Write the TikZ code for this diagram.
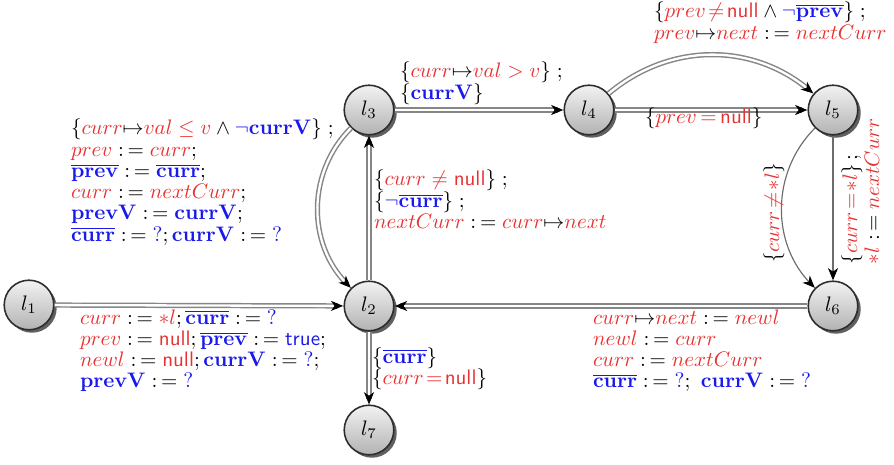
\documentclass[tikz,border=0pt]{standalone}
\usetikzlibrary{arrows.meta,decorations.markings,shadows}
\definecolor{vred}{RGB}{232,50,50}
\definecolor{vblue}{RGB}{25,25,235}
\newcommand\rd[1]{{\color{vred}#1}}
\newcommand\bl[1]{{\color{vblue}#1}}
\newcommand\asg{\mathrel{\mathbf{:}\mkern-1.8mu=}}
\newcommand\ttnull{\textsf{null}}
\newcommand\ocurr{\overline{\mathbf{curr}}}
\newcommand\oprev{\overline{\mathbf{prev}}}
\newcommand\lbl[1]{\vtop{\baselineskip=10.1pt\lineskiplimit=-100pt\lineskip=0pt #1}}
\newcommand\lline[1]{\hbox{$#1$}}
\tikzset{
  loc/.style={circle, draw=gray!35!black, line width=0.75pt, minimum size=23.6pt, inner sep=0pt,
    top color=gray!10, bottom color=gray!60,
    general shadow={fill=gray!75!black, shadow xshift=1.4pt, shadow yshift=-1.4pt}},
  tipmark/.style={postaction={decorate, decoration={markings, mark=at position 0.999 with {\arrow[black,line width=0.4pt]{Stealth[length=5.8pt,width=4.8pt,inset=1.7pt]}}}}},
  dbl/.style={draw=gray!95, line width=0.7pt, double=white, double distance=1.1pt, shorten >=2.5pt, tipmark},
  sgl/.style={draw=gray!85!black, line width=0.55pt, shorten >=2.5pt, tipmark},
  lab/.style={anchor=base west, inner sep=0pt, outer sep=0pt},
}
\begin{document}
\begin{tikzpicture}[x=0.476pt,y=-0.476pt]
\useasboundingbox (0,0) rectangle (894,465);
\node[loc] (l1) at (29,305) {$l_1$};
\node[loc] (l2) at (369,306) {$l_2$};
\node[loc] (l3) at (369,110) {$l_3$};
\node[loc] (l4) at (589,110) {$l_4$};
\node[loc] (l5) at (833,110) {$l_5$};
\node[loc] (l6) at (833,306) {$l_6$};
\node[loc] (l7) at (369,430) {$l_7$};

\draw[dbl] (l1) -- (l2);
\draw[dbl] (l2) -- (l3);
\draw[dbl] (l3) to[bend right=45] (l2);
\draw[dbl] (l3) -- (l4);
\draw[dbl] (l4) -- (l5);
\draw[dbl] (l4) to[bend left=40] (l5);
\draw[sgl] (l5) -- (l6);
\draw[sgl] (l5) to[bend right=45] (l6);
\draw[dbl] (l6) -- (l2);
\draw[dbl] (l2) -- (l7);

\node[lab] (tA) at (80,324) {\lbl{%
  \lline{\rd{curr}\asg\rd{{\ast}l};\bl{\ocurr}\asg\bl{?}}
  \lline{\rd{prev}\asg\rd{\ttnull};\bl{\oprev}\asg\bl{\textsf{true}};}
  \lline{\rd{newl}\asg\rd{\ttnull};\bl{\mathbf{currV}}\asg\bl{?};}
  \lline{\bl{\mathbf{prevV}}\asg\bl{?}}}};
\node[lab] (tB) at (71,135) {\lbl{%
  \lline{\{\rd{curr}{\mapsto}\rd{val\leq v}\wedge\bl{\neg\mathbf{currV}}\}\;;}
  \lline{\rd{prev}\asg\rd{curr};}
  \lline{\bl{\oprev}\asg\bl{\ocurr};}
  \lline{\rd{curr}\asg\rd{nextCurr};}
  \lline{\bl{\mathbf{prevV}}\asg\bl{\mathbf{currV}};}
  \lline{\bl{\ocurr}\asg\bl{?};\bl{\mathbf{currV}}\asg\bl{?}}}};
\node[lab] (tC) at (374,186) {\lbl{%
  \lline{\{\rd{curr\neq\ttnull}\}\;;}
  \lline{\{\bl{\neg\ocurr}\}\;;}
  \lline{\rd{nextCurr}\asg\rd{curr}{\mapsto}\rd{next}}}};
\node[lab] (tD) at (400,78) {\lbl{%
  \lline{\{\rd{curr}{\mapsto}\rd{val>v}\}\;;}
  \lline{\{\bl{\mathbf{currV}}\}}}};
\node[lab] (tE) at (654,18) {\lbl{%
  \lline{\{\rd{prev\mkern2mu{\neq}\mkern2mu\ttnull}\wedge\bl{\neg\oprev}\}\;;}
  \lline{\rd{prev}{\mapsto}\rd{next}\asg\rd{nextCurr}}}};
\node[lab] (tF) at (645,124) {\lbl{%
  \lline{\{\rd{prev\mkern3mu{=}\mkern3mu\ttnull}\}}}};
\node[lab] (tG) at (593,324) {\lbl{%
  \lline{\rd{curr}{\mapsto}\rd{next}\asg\rd{newl}}
  \lline{\rd{newl}\asg\rd{curr}}
  \lline{\rd{curr}\asg\rd{nextCurr}}
  \lline{\bl{\ocurr}\asg\bl{?};\ \bl{\mathbf{currV}}\asg\bl{?}}}};
\node[lab] (tH) at (372,363) {\lbl{%
  \lline{\{\bl{\ocurr}\}}
  \lline{\{\rd{curr\mkern2mu{=}\mkern2mu\ttnull}\}}}};
\node[lab, rotate=90] (tR) at (857,264) {\vtop{\baselineskip=10.5pt\lineskiplimit=-100pt\lineskip=0pt
  \lline{\{\rd{curr\mkern2mu{=}\mkern2mu{\ast}l}\}\,;}
  \lline{\rd{{\ast}l}\asg\rd{nextCurr}}}};
\node[lab, rotate=90] (tL) at (779,263) {\lbl{%
  \lline{\{\rd{curr\mkern2mu{\neq}\mkern2mu{\ast}l}\}}}};
\end{tikzpicture}
\end{document}
